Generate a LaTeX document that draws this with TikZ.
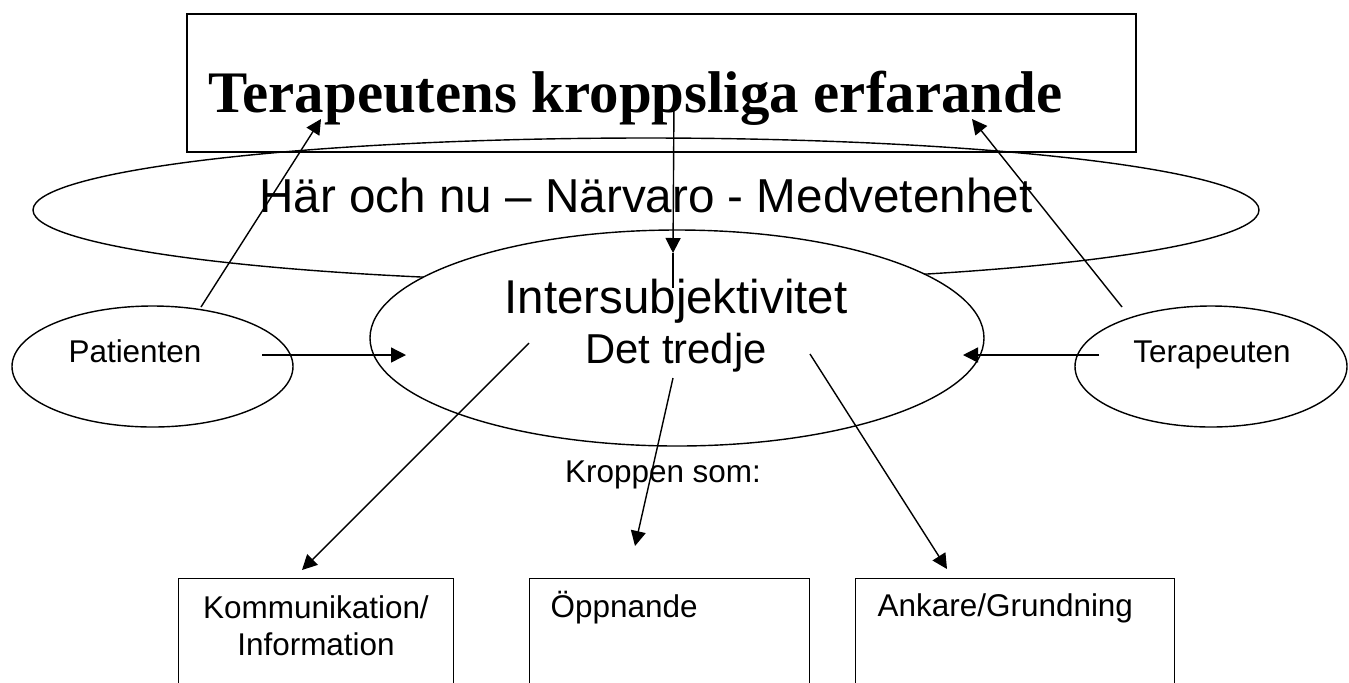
\documentclass[tikz,border=0pt]{standalone}
\usepackage{fontspec}
\setmainfont{Liberation Sans}
\newfontfamily\rubrikfont{Liberation Serif}
\usetikzlibrary{shapes.geometric,arrows.meta}

\begin{document}
\begin{tikzpicture}[>={Triangle[length=0.3cm,width=0.3cm]}, line width=0.8pt]
        \tikzstyle{el}  = [ellipse, draw=black, inner sep=0pt]
        \tikzstyle{bx}  = [rectangle, draw=black, inner sep=0pt, anchor=north west,
                                                       minimum height=2.6cm]
        \tikzstyle{lbl} = [inner sep=0pt, anchor=base, font=\fontsize{17.9}{21}\selectfont]

        \clip (0,0) rectangle (26.98,-13.64);

        \node(rubrik) [rectangle, draw=black, minimum width=18.98cm, minimum height=2.76cm]
                at (13.23,-1.66) {};
        \node(rubriktxt) [inner sep=0pt, anchor=base,
                font=\rubrikfont\bfseries\fontsize{33.5}{38}\selectfont]
                at (12.71,-2.24) {Terapeutens kroppsliga erfarande};

        \node(nu)     [el, minimum width=24.52cm, minimum height=2.88cm] at (12.92,-4.2) {};
        \node(nutxt)  [inner sep=0pt, anchor=base, font=\fontsize{27.1}{32}\selectfont]
                at (12.92,-4.24) {Här och nu – Närvaro - Medvetenhet};

        \node(inter)  [el, fill=white, minimum width=12.28cm, minimum height=4.32cm]
                at (13.54,-6.76) {};
        \node(intertxt) [inner sep=0pt, anchor=base, font=\fontsize{27}{32}\selectfont]
                at (13.52,-6.26) {Intersubjektivitet};
        \node(tredje) [inner sep=0pt, anchor=base, font=\fontsize{23.8}{28}\selectfont]
                at (13.52,-7.26) {Det tredje};

        \node(pat)    [el, minimum width=5.62cm, minimum height=2.42cm] at (3.05,-7.33) {};
        \node(pattxt) [lbl] at (2.7,-7.24) {Patienten};
        \node(ter)    [el, minimum width=5.44cm, minimum height=2.42cm] at (24.22,-7.33) {};
        \node(tertxt) [lbl] at (24.24,-7.24) {Terapeuten};

        \node(som)    [lbl] at (13.26,-9.64) {Kroppen som:};

        \node(komm)   [bx, minimum width=5.5cm]  at (3.56,-11.56) {};
        \node(oppn)   [bx, minimum width=5.6cm]  at (10.58,-11.56) {};
        \node(ankare) [bx, minimum width=6.38cm] at (17.1,-11.56) {};
        \node(kommtxt1) [lbl] at (6.32,-12.36) {Kommunikation/};
        \node(kommtxt2) [lbl] at (6.32,-13.1) {Information};
        \node(oppntxt)  [lbl, anchor=base west] at (11.0,-12.34) {Öppnande};
        \node(ankartxt) [lbl, anchor=base west] at (17.54,-12.32) {Ankare/Grundning};

        % ends of the connectors
        \coordinate (patut)  at (4.02,-6.14);
        \coordinate (rubA)   at (6.42,-2.38);
        \coordinate (rubB)   at (13.48,-2.0);
        \coordinate (rubC)   at (19.44,-2.38);
        \coordinate (terut)  at (22.44,-6.14);
        \coordinate (mittA)  at (13.46,-5.06);
        \coordinate (mittB)  at (13.46,-5.76);
        \coordinate (patH)   at (5.24,-7.1);
        \coordinate (interV) at (8.12,-7.1);
        \coordinate (terH)   at (21.98,-7.1);
        \coordinate (interH) at (19.26,-7.1);
        \coordinate (ned1)   at (10.58,-6.86);
        \coordinate (ned2)   at (13.46,-7.56);
        \coordinate (ned3)   at (16.2,-7.08);
        \coordinate (k1)     at (6.04,-11.4);
        \coordinate (k2)     at (12.7,-10.92);
        \coordinate (k3)     at (18.94,-11.38);

        \draw[->] (patut) -- (rubA);
        \draw[->] (terut) -- (rubC);
        \draw[->] (rubB) -- (mittA);
        \draw (mittA) -- (mittB);
        \draw[->] (patH) -- (interV);
        \draw[->] (terH) -- (interH);
        \draw[->] (ned1) -- (k1);
        \draw[->] (ned2) -- (k2);
        \draw[->] (ned3) -- (k3);
      \end{tikzpicture}
\end{document}
